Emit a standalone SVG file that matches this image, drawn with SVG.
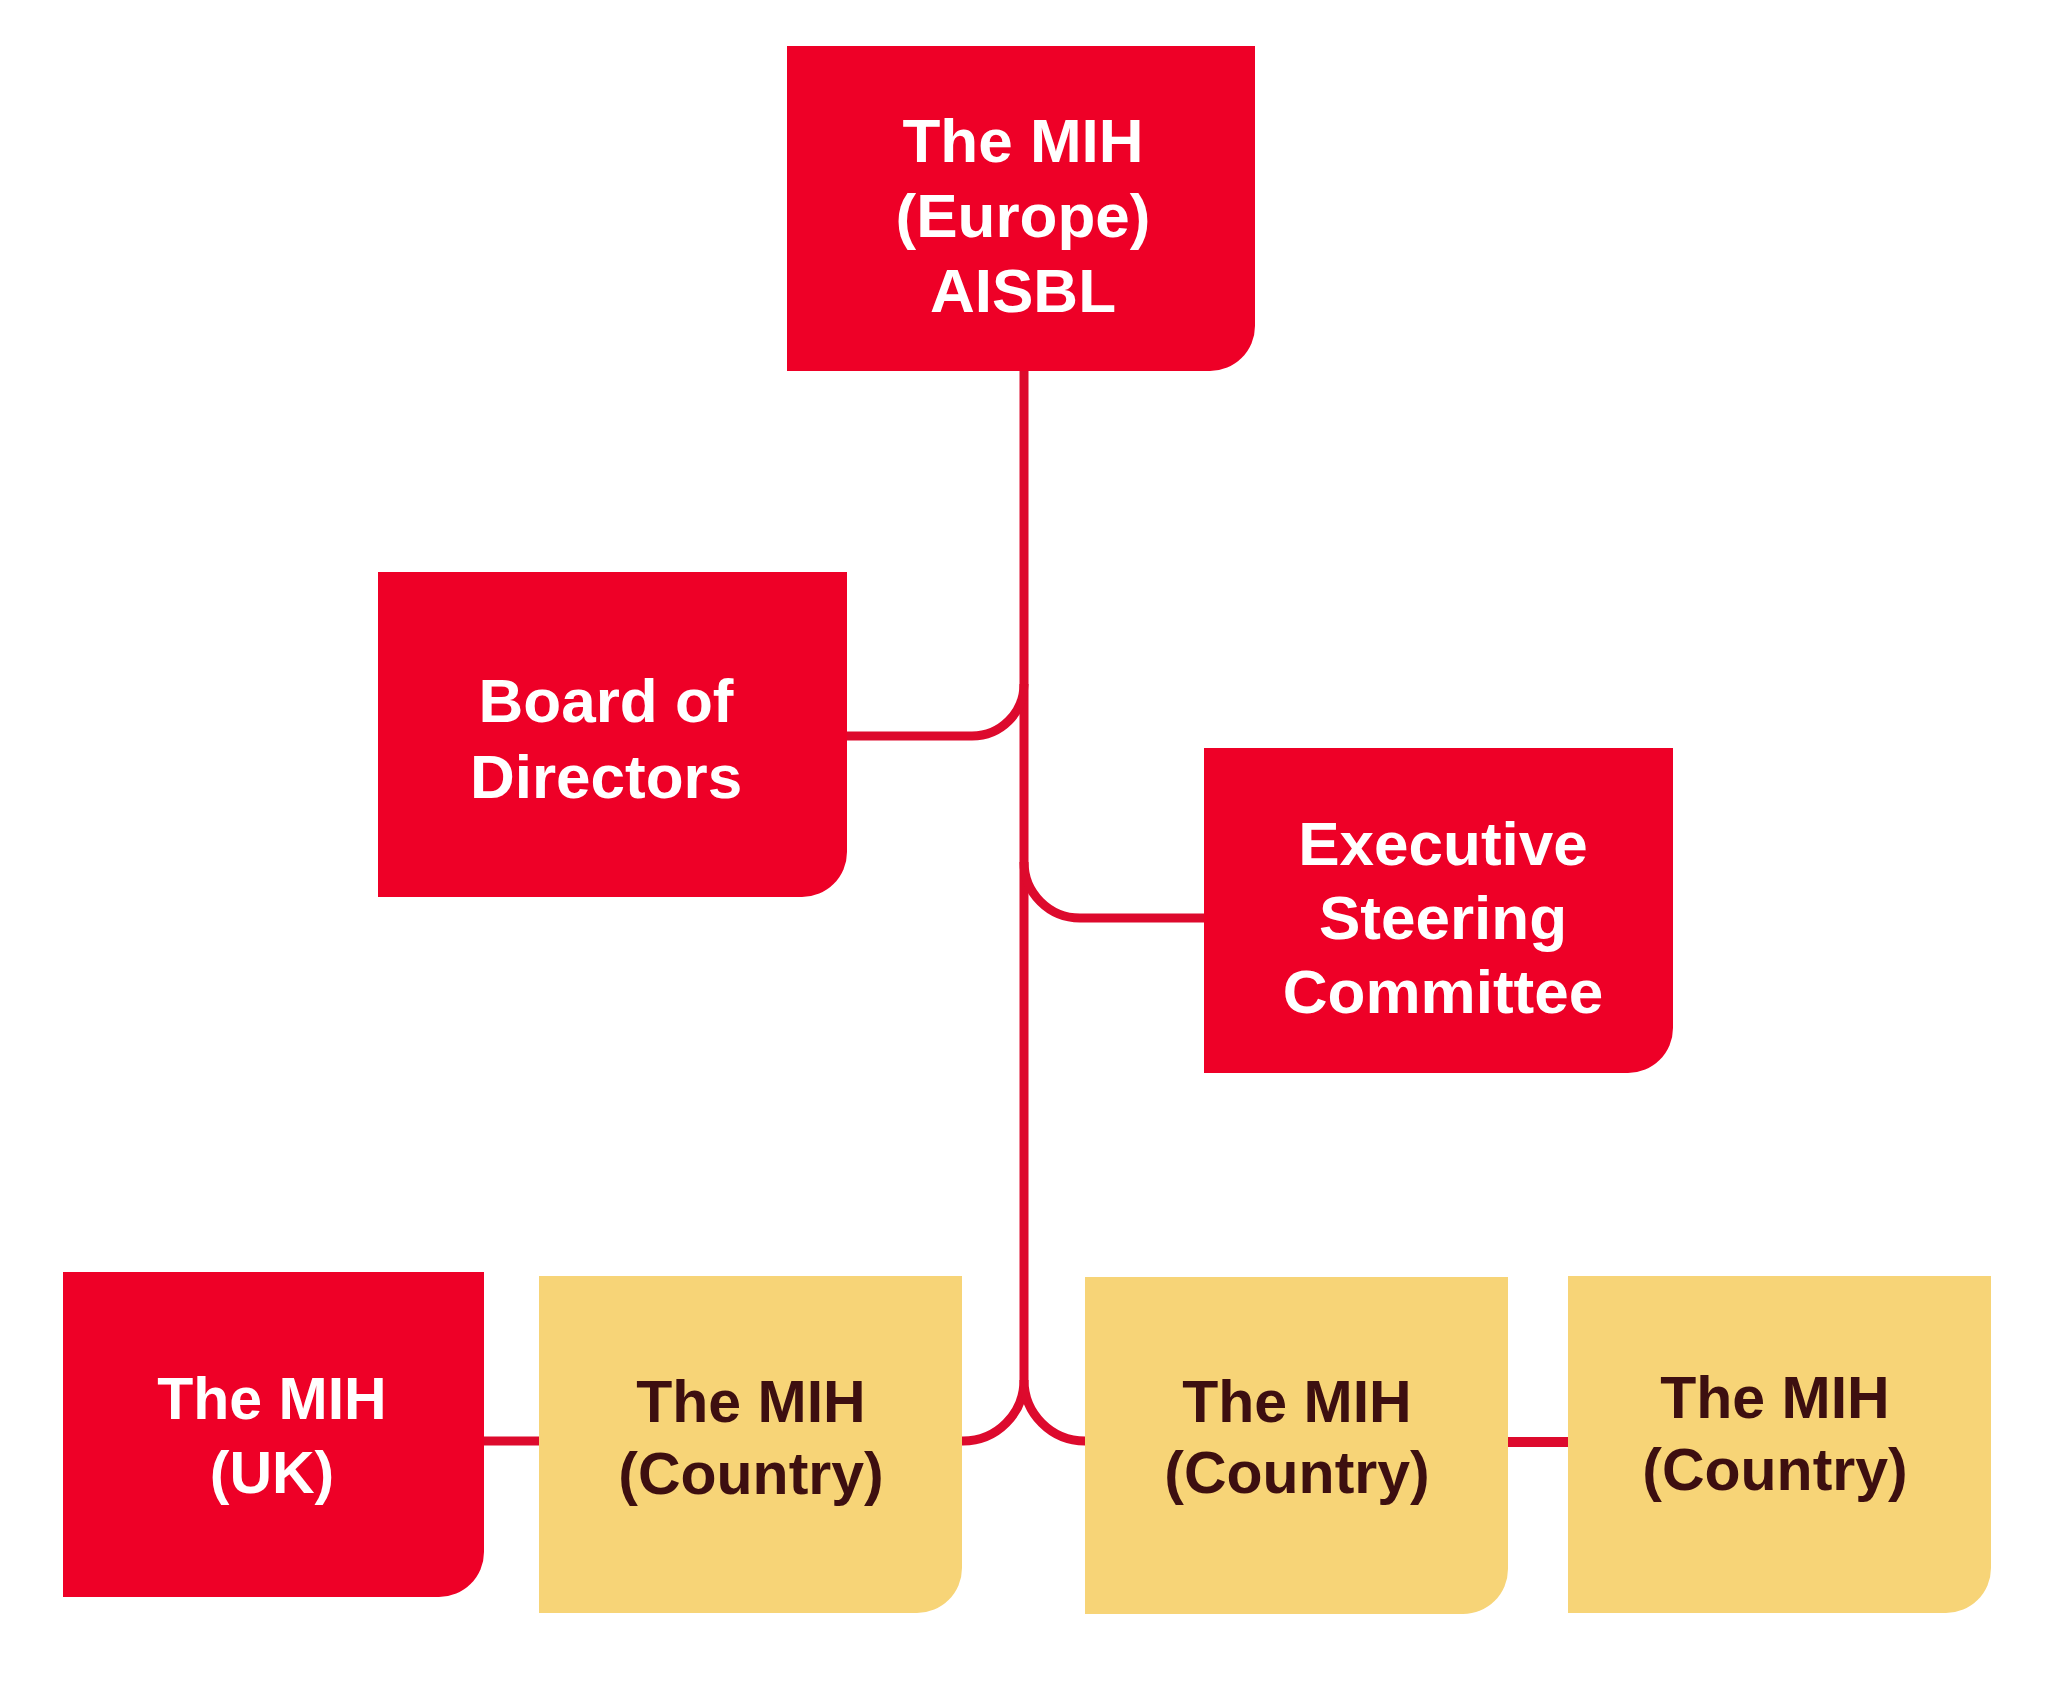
<svg xmlns="http://www.w3.org/2000/svg" width="2048" height="1686" viewBox="0 0 2048 1686">
<style>
.red{fill:#EE0027}
.yel{fill:#F7D477}
.t{font-family:"Liberation Sans",Arial,sans-serif;font-weight:bold;text-anchor:middle}
.tw{fill:#FFFFFF}
.td{fill:#3D0F10}
.c{fill:none;stroke:#DD0A2D;stroke-width:9}
</style>
<rect width="2048" height="1686" fill="#FFFFFF"/>
<g id="connectors">
<path class="c" d="M1024 371 V1380"/>
<path class="c" d="M847 736 H972 A52 52 0 0 0 1024 684"/>
<path class="c" d="M1024 862 A56 56 0 0 0 1080 918 H1204"/>
<path class="c" d="M1024 1380 A61 61 0 0 1 963 1441 H962"/>
<path class="c" d="M1024 1380 A61 61 0 0 0 1085 1441"/>
<path class="c" d="M484 1441 H539"/>
<path class="c" d="M1508 1442 H1568" style="stroke-width:10"/>
</g>
<g id="europe">
<path class="red" d="M787 46 H1255 V326 A45 45 0 0 1 1210 371 H787 Z"/>
<text class="t tw" font-size="62" x="1023" y="162">The MIH</text>
<text class="t tw" font-size="62" x="1023" y="237">(Europe)</text>
<text class="t tw" font-size="62" x="1023" y="312">AISBL</text>
</g>
<g id="board">
<path class="red" d="M378 572 H847 V852 A45 45 0 0 1 802 897 H378 Z"/>
<text class="t tw" font-size="62" x="606" y="722">Board of</text>
<text class="t tw" font-size="62" x="606" y="798">Directors</text>
</g>
<g id="esc">
<path class="red" d="M1204 748 H1673 V1028 A45 45 0 0 1 1628 1073 H1204 Z"/>
<text class="t tw" font-size="62" x="1443" y="865">Executive</text>
<text class="t tw" font-size="62" x="1443" y="939">Steering</text>
<text class="t tw" font-size="62" x="1443" y="1013">Committee</text>
</g>
<g id="uk">
<path class="red" d="M63 1272 H484 V1552 A45 45 0 0 1 439 1597 H63 Z"/>
<text class="t tw" font-size="59" x="272" y="1419">The MIH</text>
<text class="t tw" font-size="59" x="272" y="1493">(UK)</text>
</g>
<g id="country1">
<path class="yel" d="M539 1276 H962 V1568 A45 45 0 0 1 917 1613 H539 Z"/>
<text class="t td" font-size="59" x="751" y="1422">The MIH</text>
<text class="t td" font-size="59" x="751" y="1494">(Country)</text>
</g>
<g id="country2">
<path class="yel" d="M1085 1277 H1508 V1569 A45 45 0 0 1 1463 1614 H1085 Z"/>
<text class="t td" font-size="59" x="1297" y="1422">The MIH</text>
<text class="t td" font-size="59" x="1297" y="1493">(Country)</text>
</g>
<g id="country3">
<path class="yel" d="M1568 1276 H1991 V1568 A45 45 0 0 1 1946 1613 H1568 Z"/>
<text class="t td" font-size="59" x="1775" y="1418">The MIH</text>
<text class="t td" font-size="59" x="1775" y="1490">(Country)</text>
</g>
</svg>
